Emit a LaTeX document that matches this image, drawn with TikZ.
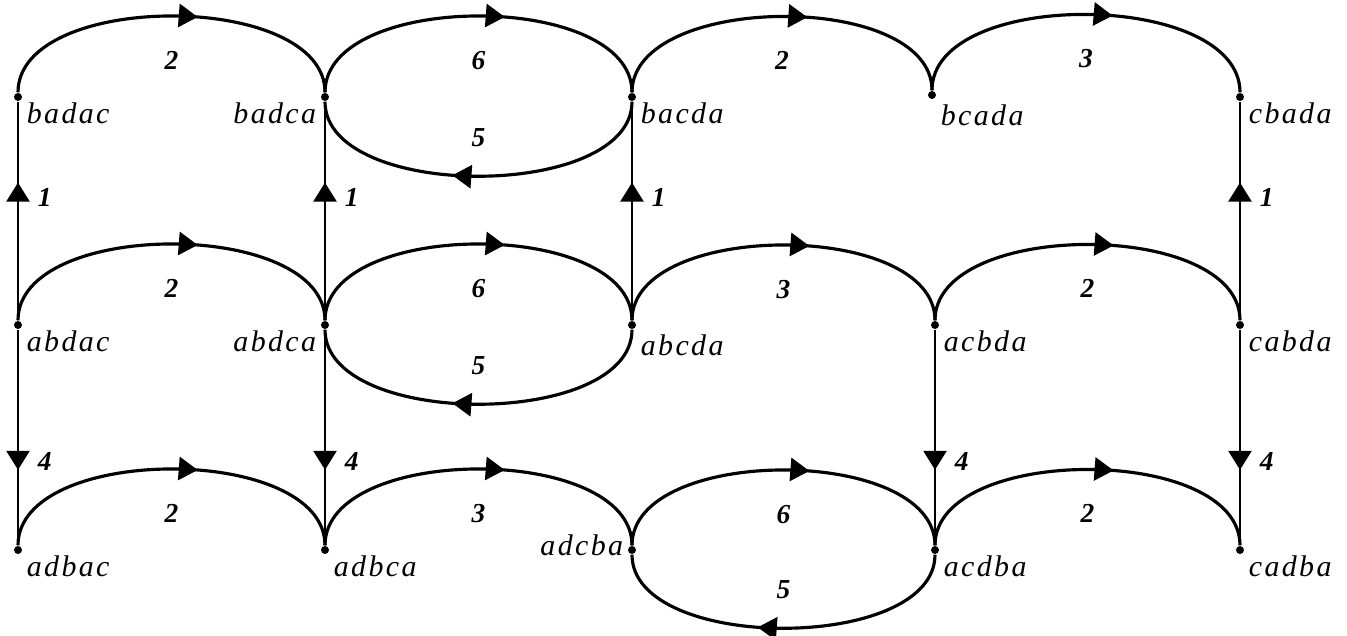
\documentclass[tikz,border=0pt]{standalone}
\usepackage{fontspec}
\setmainfont{Liberation Serif}
\newfontfamily\tagfont[LetterSpace=8]{Liberation Serif}
\usetikzlibrary{arrows.meta,decorations.markings,positioning}

\tikzset{
  pt/.style={circle,fill,inner sep=0pt,minimum size=0.08cm},
  lbl/.style={font=\tagfont\itshape\fontsize{8.5}{10}\selectfont,inner sep=1pt},
  num/.style={font=\bfseries\itshape\fontsize{7.8}{9}\selectfont,inner sep=1pt},
  tagr/.style={label={[lbl,yshift=-0.16cm]right:#1}},
  tagl/.style={label={[lbl,yshift=-0.16cm]left:#1}},
  mid/.style={postaction={decorate,decoration={markings,
      mark=at position #1 with {\arrow{Triangle[length=0.19cm,width=0.23cm]}}}}},
  hop/.style={line width=0.9pt,out=90,in=90,looseness=0.85,mid=0.57},
  back/.style={line width=0.9pt,out=-90,in=-90,looseness=0.83,mid=0.57},
  rung/.style={line width=0.7pt,mid=#1},
}

\begin{document}
\begin{tikzpicture}[x=0.01cm,y=0.01cm]
  \useasboundingbox (0,0) rectangle (1347,635);
  % top row
  \node[pt,tagr=badac] (badac) at (18,538) {};
  \node[pt,tagl=badca] (badca) at (325,538) {};
  \node[pt,tagr=bacda] (bacda) at (632,538) {};
  \node[pt,label={[lbl,yshift=-0.2cm]right:bcada}] (bcada) at (932,540) {};
  \node[pt,tagr=cbada] (cbada) at (1240,538) {};
  % middle row
  \node[pt,tagr=abdac] (abdac) at (18,310) {};
  \node[pt,tagl=abdca] (abdca) at (325,310) {};
  \node[pt,label={[lbl,yshift=-0.2cm]right:abcda}] (abcda) at (632,310) {};
  \node[pt,tagr=acbda] (acbda) at (935,310) {};
  \node[pt,tagr=cabda] (cabda) at (1240,310) {};
  % bottom row
  \node[pt,tagr=adbac] (adbac) at (18,85) {};
  \node[pt,tagr=adbca] (adbca) at (325,85) {};
  \node[pt,label={[lbl,yshift=0.05cm]left:adcba}] (adcba) at (632,85) {};
  \node[pt,tagr=acdba] (acdba) at (935,85) {};
  \node[pt,tagr=cadba] (cadba) at (1240,85) {};

  % arcs along the rows
  \path
    (badac) edge[hop] node[num,below=0.3cm] {2} (badca)
    (badca) edge[hop] node[num,below=0.3cm] {6} (bacda)
    (bacda) edge[back] node[num,above=0.24cm] {5} (badca)
    (bacda) edge[hop] node[num,below=0.3cm] {2} (bcada)
    (bcada) edge[hop] node[num,below=0.3cm] {3} (cbada)
    (abdac) edge[hop] node[num,below=0.3cm] {2} (abdca)
    (abdca) edge[hop] node[num,below=0.3cm] {6} (abcda)
    (abcda) edge[back] node[num,above=0.24cm] {5} (abdca)
    (abcda) edge[hop] node[num,below=0.3cm] {3} (acbda)
    (acbda) edge[hop] node[num,below=0.3cm] {2} (cabda)
    (adbac) edge[hop] node[num,below=0.3cm] {2} (adbca)
    (adbca) edge[hop] node[num,below=0.3cm] {3} (adcba)
    (adcba) edge[hop] node[num,below=0.3cm] {6} (acdba)
    (acdba) edge[back] node[num,above=0.24cm] {5} (adcba)
    (acdba) edge[hop] node[num,below=0.3cm] {2} (cadba);

  % vertical moves
  \path
    (abdac) edge[rung=0.63] node[num,right=0.15cm,pos=0.56] {1} (badac)
    (abdca) edge[rung=0.63] node[num,right=0.15cm,pos=0.56] {1} (badca)
    (abcda) edge[rung=0.63] node[num,right=0.15cm,pos=0.56] {1} (bacda)
    (cabda) edge[rung=0.63] node[num,right=0.15cm,pos=0.56] {1} (cbada)
    (abdac) edge[rung=0.65] node[num,right=0.15cm,pos=0.61] {4} (adbac)
    (abdca) edge[rung=0.65] node[num,right=0.15cm,pos=0.61] {4} (adbca)
    (acbda) edge[rung=0.65] node[num,right=0.15cm,pos=0.61] {4} (acdba)
    (cabda) edge[rung=0.65] node[num,right=0.15cm,pos=0.61] {4} (cadba);
\end{tikzpicture}
\end{document}
